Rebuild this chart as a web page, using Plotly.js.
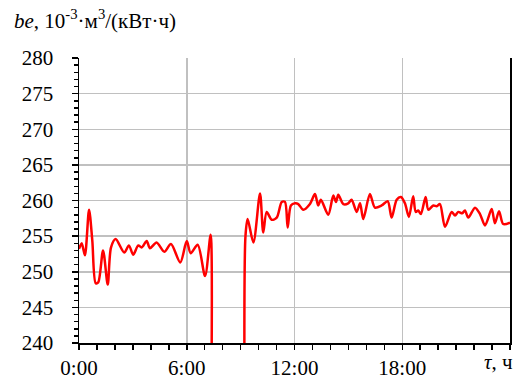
<!DOCTYPE html>
<html><head><meta charset="utf-8">
<script src="https://cdn.plot.ly/plotly-3.0.1.min.js"></script>
<style>
html,body{margin:0;padding:0;background:#fff}
#chart{width:520px;height:379px}
</style>
</head><body><div id="chart"></div>
<script>
// time in hours (null = values below the axis range, off chart)
const hours = [0.00,0.15,0.33,0.56,0.74,0.93,1.07,1.34,1.60,1.78,2.04,2.52,2.78,3.02,3.30,3.49,3.77,3.95,4.32,4.75,5.12,5.64,6.00,6.22,6.61,7.02,7.33,7.38,null,
  9.21,9.27,9.39,9.71,10.08,10.26,10.45,10.73,11.01,11.29,11.47,11.62,11.80,12.03,12.21,12.49,12.86,13.14,13.32,13.47,13.88,14.16,14.31,14.44,14.72,14.99,15.18,15.46,15.65,15.83,16.20,16.48,16.85,17.19,17.41,17.69,17.93,18.15,18.37,18.61,18.75,18.89,19.04,19.30,19.45,19.73,19.92,20.10,20.38,20.75,20.94,21.12,21.34,21.49,21.68,22.05,22.33,22.61,22.98,23.16,23.39,23.62,24.00];
const be = [253.2,254.0,252.3,258.7,254.4,248.4,248.5,253.0,248.2,253.4,254.6,252.7,253.7,252.4,253.7,253.4,254.3,253.3,254.1,252.8,253.9,251.3,254.3,252.6,253.8,249.4,255.2,236,null,
  236,255.0,257.4,254.1,261.0,255.5,258.4,257.3,257.6,259.8,259.8,256.2,259.3,259.6,259.5,258.7,259.5,260.9,259.3,260.1,258.0,260.7,259.8,260.8,259.5,259.6,260.1,258.4,259.6,257.4,260.9,259.0,259.3,259.9,257.6,260.1,260.5,259.6,257.7,260.6,258.4,258.6,258.1,260.5,258.7,259.3,259.2,259.5,256.3,258.4,257.9,258.4,258.2,258.6,257.6,259.0,258.1,256.5,258.8,256.8,258.5,256.7,256.9];
const xTickVals = [0,6,12,18];
const xTickText = ['0:00','6:00','12:00','18:00'];
const yTickVals = [240,245,250,255,260,265,270,275,280];

const font = {family:'Liberation Serif', size:21, color:'#000'};

Plotly.newPlot('chart', [{
  x: hours, y: be, type:'scatter', mode:'lines', connectgaps:false,
  line:{color:'#ff0000', width:2.5, shape:'spline', smoothing:0.8},
  hoverinfo:'skip'
}], {
  width:520, height:379,
  margin:{l:79, r:10, t:58, b:36},
  paper_bgcolor:'#fff', plot_bgcolor:'#fff',
  showlegend:false,
  font: font,
  xaxis:{range:[0,24], tickvals:xTickVals, ticktext:xTickText,
    showgrid:true, gridcolor:'#c0c0c0', gridwidth:1.5,
    showline:true, linecolor:'#000', linewidth:1.5,
    ticks:'outside', ticklen:5, tickwidth:1.5, tickcolor:'#000',
    minor:{dtick:1, tick0:0, ticks:'outside', ticklen:5, tickwidth:1.5, tickcolor:'#000', showgrid:false},
    zeroline:false, tickfont:font, fixedrange:true},
  yaxis:{range:[240,280], tickvals:yTickVals,
    showgrid:true, gridcolor:'#c0c0c0', gridwidth:1.5,
    showline:true, mirror:true, linecolor:'#000', linewidth:1.5,
    ticks:'outside', ticklen:6, tickwidth:1.5, tickcolor:'#000', ticklabelstandoff:14,
    minor:{dtick:1, tick0:240, ticks:'outside', ticklen:4, tickwidth:1.5, tickcolor:'#000', showgrid:false},
    zeroline:false, tickfont:font, fixedrange:true},
  annotations:[
    {xref:'paper', yref:'paper', x:-0.155, y:1.135, xanchor:'left', yanchor:'middle', showarrow:false,
     text:'<i>be</i>, 10<sup>-3</sup>·м<sup>3</sup>/(кВт·ч)', font:font},
    {xref:'paper', yref:'paper', x:1.012, y:-0.067, xanchor:'right', yanchor:'middle', showarrow:false,
     text:'<i>τ</i>, ч', font:font}
  ]
}, {staticPlot:true});
</script></body></html>
